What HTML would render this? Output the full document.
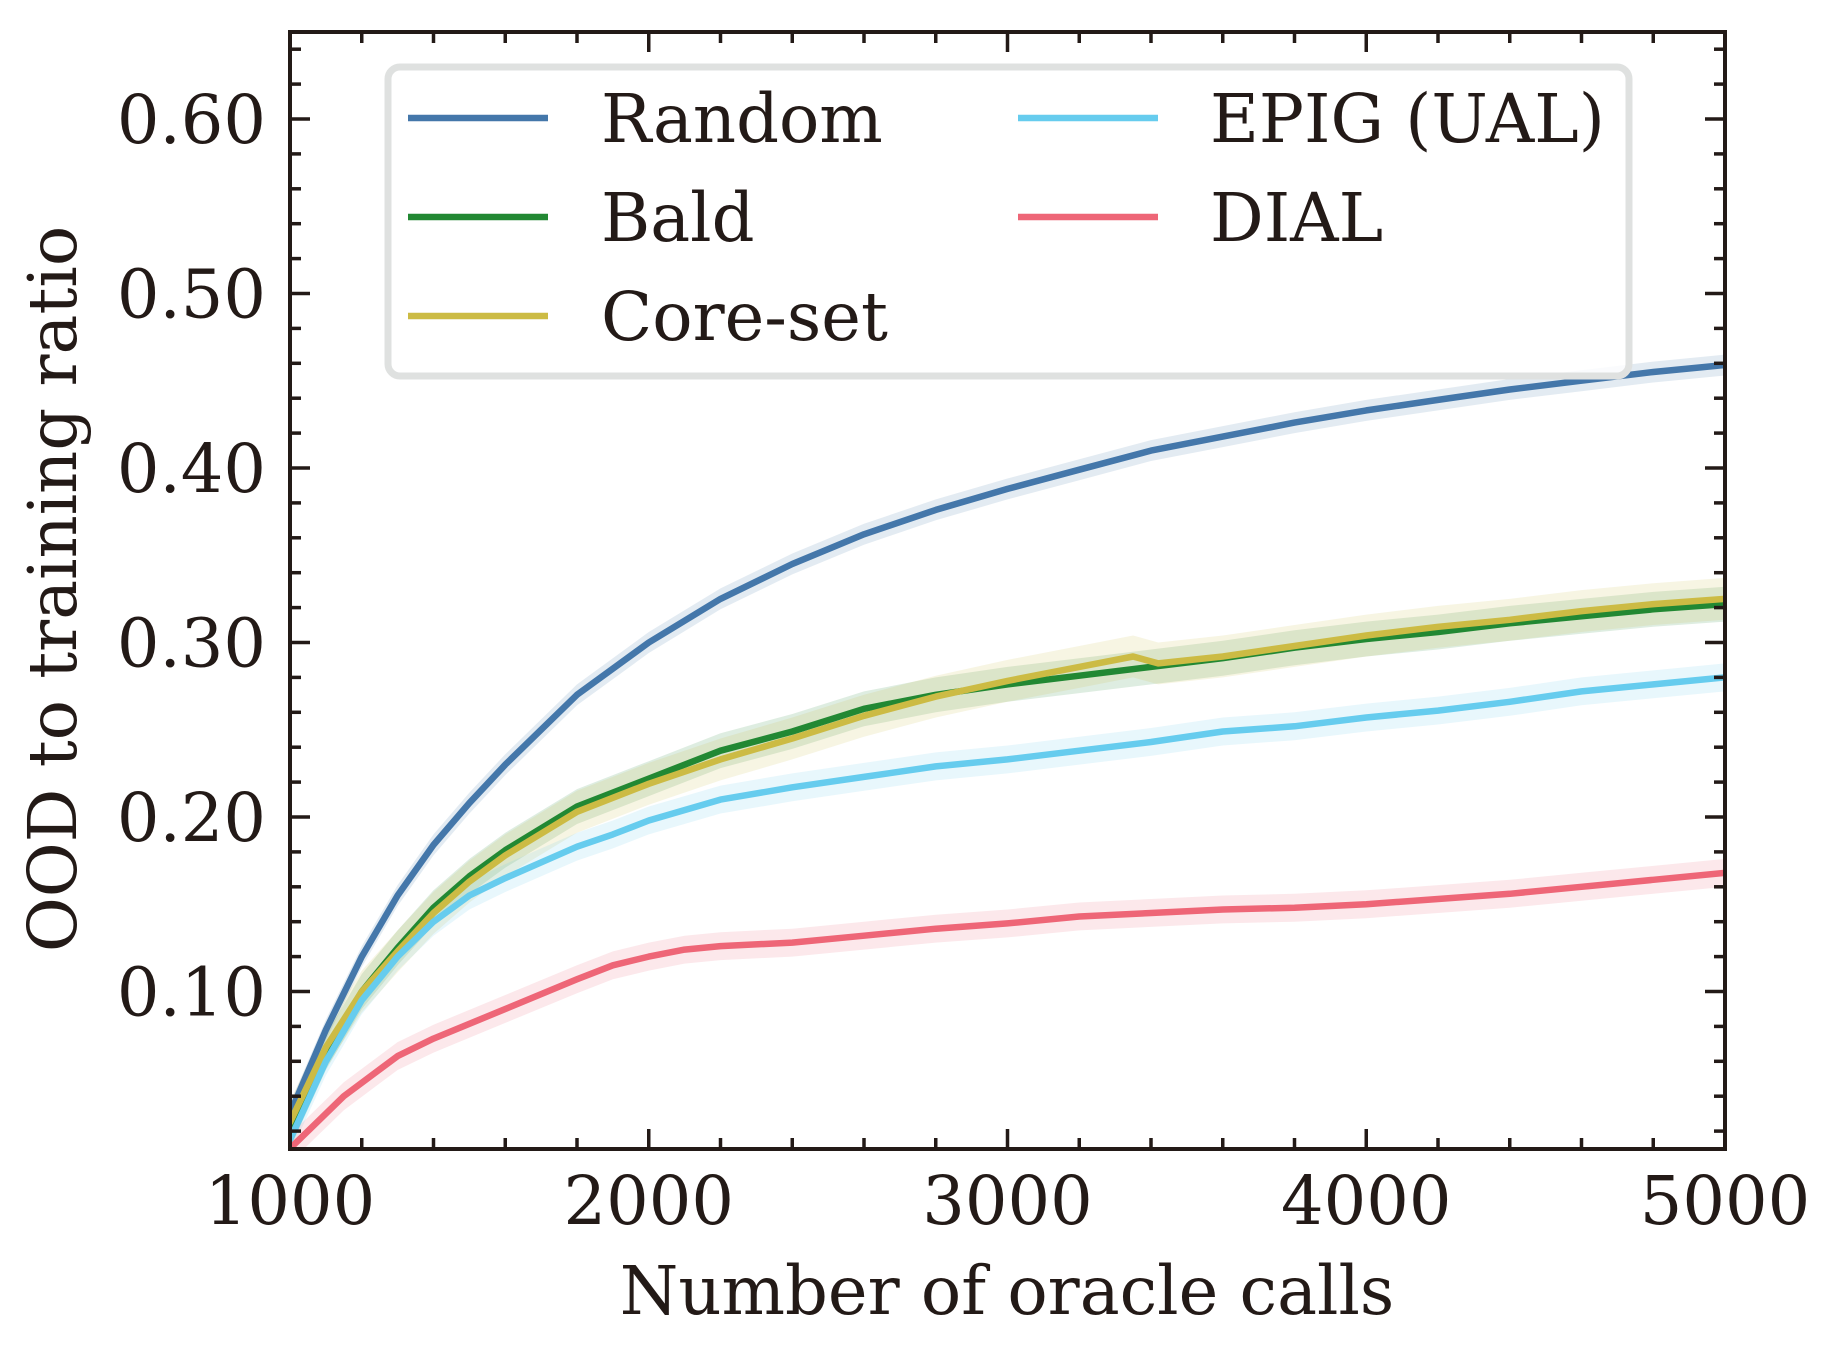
<!DOCTYPE html>
<html><head><meta charset="utf-8"><style>
html,body{margin:0;padding:0;background:#fff;}
svg{display:block;}
text{font-family:"DejaVu Serif","Liberation Serif",serif;fill:#231a17;}
</style></head><body>
<svg id="s" width="1830" height="1353" viewBox="0 0 1830 1353" xmlns="http://www.w3.org/2000/svg">
<defs><clipPath id="c"><rect x="290" y="32" width="1435" height="1117"/></clipPath></defs>
<g id="bands" clip-path="url(#c)"></g>
<g id="lines" clip-path="url(#c)" fill="none" stroke-width="6.5" stroke-linejoin="round" stroke-linecap="round"></g>
<g id="ticks" stroke="#231a17" stroke-width="3.5"></g>
<rect x="290" y="32" width="1435" height="1117" fill="none" stroke="#231a17" stroke-width="4"/>
<g id="labels" font-size="67"></g>
<rect x="388" y="67" width="1241" height="309" rx="12" fill="#fff" fill-opacity="0.8" stroke="#dfe1e0" stroke-width="7"/>
<g stroke-width="6.5">
<line x1="408" y1="118" x2="548" y2="118" stroke="#4477aa"/>
<line x1="408" y1="217" x2="548" y2="217" stroke="#228833"/>
<line x1="408" y1="316" x2="548" y2="316" stroke="#ccbb44"/>
<line x1="1018" y1="118" x2="1158" y2="118" stroke="#66ccee"/>
<line x1="1018" y1="217" x2="1158" y2="217" stroke="#ee6677"/>
</g>
<g font-size="67">
<text x="601" y="142">Random</text>
<text x="601" y="241">Bald</text>
<text x="601" y="340">Core-set</text>
<text x="1210" y="142">EPIG (UAL)</text>
<text x="1210" y="241">DIAL</text>
</g>
<text x="1007" y="1314" font-size="67" text-anchor="middle">Number of oracle calls</text>
<text transform="translate(76,589) rotate(-90)" font-size="67" text-anchor="middle">OOD to training ratio</text>
</svg>
<script>
const X=v=>290+(v-1000)*0.35875, Y=v=>119+(0.6-v)*1745;
const NS="http://www.w3.org/2000/svg";
function el(p,t,a){const e=document.createElementNS(NS,t);for(const k in a)e.setAttribute(k,a[k]);p.appendChild(e);return e;}
const series=[
["#4477aa",0.006,[[1000,0.03],[1100,0.078],[1200,0.12],[1300,0.155],[1400,0.184],[1500,0.208],[1600,0.23],[1800,0.27],[2000,0.30],[2200,0.325],[2400,0.345],[2600,0.362],[2800,0.376],[3000,0.388],[3200,0.399],[3400,0.41],[3600,0.418],[3800,0.426],[4000,0.433],[4200,0.439],[4400,0.445],[4600,0.45],[4800,0.455],[5000,0.459]]],
["#228833",0.01,[[1000,0.02],[1100,0.065],[1200,0.1],[1300,0.125],[1400,0.148],[1500,0.166],[1600,0.181],[1800,0.206],[2000,0.222],[2200,0.238],[2400,0.249],[2600,0.262],[2800,0.27],[3000,0.276],[3200,0.281],[3400,0.286],[3600,0.291],[3800,0.297],[4000,0.302],[4200,0.306],[4400,0.311],[4600,0.315],[4800,0.319],[5000,0.322]]],
["#ccbb44",0.012,[[1000,0.025],[1100,0.068],[1200,0.1],[1300,0.123],[1400,0.145],[1500,0.163],[1600,0.178],[1800,0.203],[2000,0.219],[2200,0.233],[2400,0.245],[2600,0.258],[2800,0.269],[3000,0.278],[3200,0.286],[3350,0.292],[3420,0.288],[3600,0.292],[3800,0.298],[4000,0.304],[4200,0.309],[4400,0.313],[4600,0.318],[4800,0.322],[5000,0.325]]],
["#66ccee",0.008,[[1000,0.015],[1100,0.06],[1200,0.095],[1300,0.12],[1400,0.14],[1500,0.155],[1600,0.165],[1800,0.183],[1900,0.19],[2000,0.198],[2200,0.21],[2400,0.217],[2600,0.223],[2800,0.229],[3000,0.233],[3200,0.238],[3400,0.243],[3600,0.249],[3800,0.252],[4000,0.257],[4200,0.261],[4400,0.266],[4600,0.272],[4800,0.276],[5000,0.28]]],
["#ee6677",0.008,[[1000,0.01],[1150,0.04],[1300,0.063],[1400,0.073],[1600,0.09],[1800,0.107],[1900,0.115],[2000,0.12],[2100,0.124],[2200,0.126],[2400,0.128],[2600,0.132],[2800,0.136],[3000,0.139],[3200,0.143],[3400,0.145],[3600,0.147],[3800,0.148],[4000,0.15],[4200,0.153],[4400,0.156],[4600,0.16],[4800,0.164],[5000,0.168]]]
];
const B=document.getElementById("bands"),L=document.getElementById("lines");
for(const [c,w,d] of series){
 let up=d.map(p=>X(p[0]).toFixed(1)+","+Y(p[1]+w).toFixed(1));
 let dn=d.slice().reverse().map(p=>X(p[0]).toFixed(1)+","+Y(p[1]-w).toFixed(1));
 el(B,"polygon",{points:up.concat(dn).join(" "),fill:c,"fill-opacity":0.15});
}
for(const [c,w,d] of series){
 el(L,"polyline",{points:d.map(p=>X(p[0]).toFixed(1)+","+Y(p[1]).toFixed(1)).join(" "),stroke:c});
}
const T=document.getElementById("ticks"),G=document.getElementById("labels");
for(let v=1000;v<=5000;v+=200){const x=X(v),maj=v%1000==0,l=maj?20:11;
 el(T,"line",{x1:x,y1:1149,x2:x,y2:1149-l});el(T,"line",{x1:x,y1:32,x2:x,y2:32+l});
 if(maj){const t=el(G,"text",{x:x,y:1224,"text-anchor":"middle"});t.textContent=v;}}
for(let i=1;i<=32;i++){const v=i*0.02,y=Y(v);if(y<32||y>1149)continue;const maj=i%5==0,l=maj?20:11;
 el(T,"line",{x1:290,y1:y,x2:290+l,y2:y});el(T,"line",{x1:1725,y1:y,x2:1725-l,y2:y});
 if(maj){const t=el(G,"text",{x:266,y:y+24,"text-anchor":"end"});t.textContent=v.toFixed(2);}}
</script>
</body></html>
